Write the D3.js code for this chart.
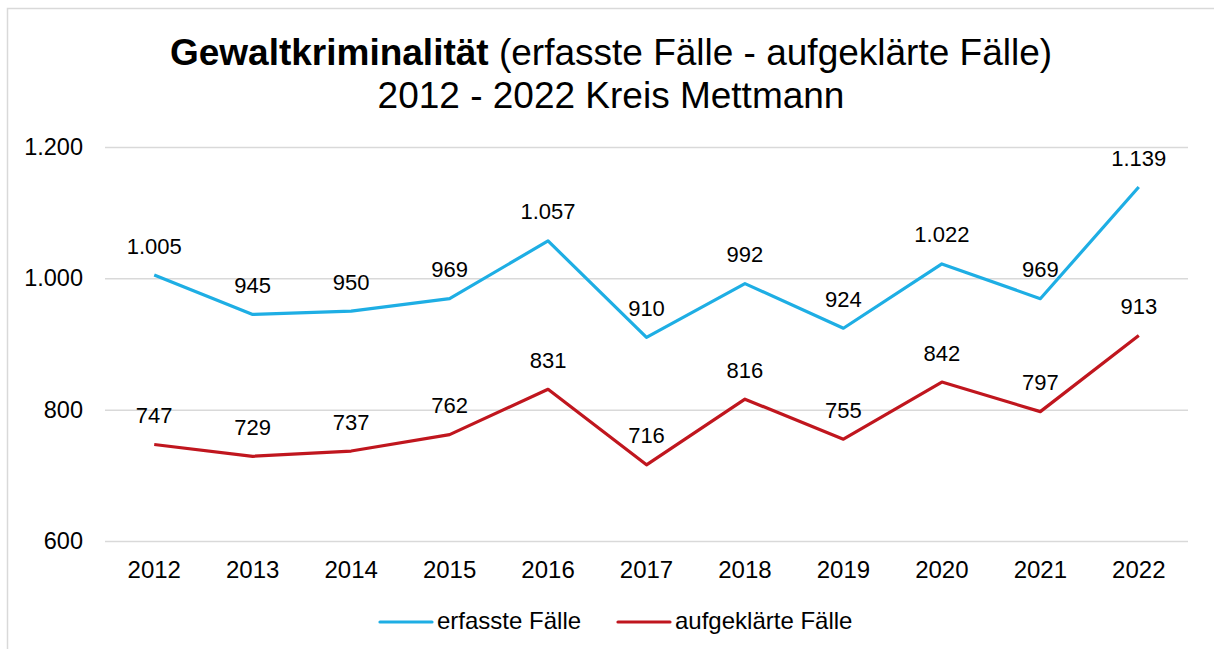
<!DOCTYPE html>
<html>
<head>
<meta charset="utf-8">
<script src="https://cdn.jsdelivr.net/npm/d3@7"></script>
<style>
  body { margin: 0; background: #fff; }
  text { font-family: "Liberation Sans", Arial, sans-serif; fill: #000; }
</style>
</head>
<body>
<svg id="chart" width="1214" height="649"></svg>
<script>
const years = ["2012", "2013", "2014", "2015", "2016", "2017", "2018", "2019", "2020", "2021", "2022"];
const erfasst = [1005, 945, 950, 969, 1057, 910, 992, 924, 1022, 969, 1139];
const aufgeklaert = [747, 729, 737, 762, 831, 716, 816, 755, 842, 797, 913];
const yTicks = [600, 800, 1000, 1200];
const seriesNames = ["erfasste Fälle", "aufgeklärte Fälle"];
const colors = ["#1eaee4", "#c0161e"];

const svg = d3.select("#chart");
const width = +svg.attr("width");
const height = +svg.attr("height");
const margin = { top: 147, right: 26, bottom: 108, left: 105 };

const fmt = v => d3.format(",")(v).replace(/,/g, ".");

// chart frame
svg.append("rect")
  .attr("x", 7.5).attr("y", 8.5)
  .attr("width", width + 20).attr("height", height + 20)
  .attr("fill", "none")
  .attr("stroke", "#d9d9d9")
  .attr("stroke-width", 1.5);

// title
const title = svg.append("text")
  .attr("x", 611).attr("y", 65)
  .attr("text-anchor", "middle")
  .attr("font-size", 37);
title.append("tspan").attr("font-weight", "bold").text("Gewaltkriminalität");
title.append("tspan").text(" (erfasste Fälle - aufgeklärte Fälle)");
svg.append("text")
  .attr("x", 611).attr("y", 108)
  .attr("text-anchor", "middle")
  .attr("font-size", 37)
  .text("2012 - 2022 Kreis Mettmann");

const x = d3.scaleBand().domain(years).range([margin.left, width - margin.right]);
const y = d3.scaleLinear().domain([600, 1200]).range([height - margin.bottom, margin.top]);

// gridlines
svg.append("g")
  .attr("transform", `translate(${margin.left},0)`)
  .call(d3.axisLeft(y).tickValues(yTicks).tickSize(-(width - margin.right - margin.left)).tickFormat(""))
  .call(g => g.select(".domain").remove())
  .call(g => g.selectAll("line").attr("stroke", "#d9d9d9").attr("stroke-width", 1.5));

// y axis labels
svg.append("g")
  .attr("transform", `translate(${margin.left},0)`)
  .call(d3.axisLeft(y).tickValues(yTicks).tickSize(0).tickPadding(22).tickFormat(fmt))
  .call(g => g.select(".domain").remove())
  .call(g => g.selectAll("text").attr("font-size", 23.5).attr("font-family", "Liberation Sans, Arial, sans-serif").attr("fill", "#000"));

// x axis labels
svg.append("g")
  .attr("transform", `translate(0,${height - margin.bottom})`)
  .call(d3.axisBottom(x).tickSize(0).tickPadding(20))
  .call(g => g.select(".domain").remove())
  .call(g => g.selectAll("text").attr("font-size", 24).attr("font-family", "Liberation Sans, Arial, sans-serif").attr("fill", "#000"));

const line = d3.line()
  .x((d, i) => x(years[i]) + x.bandwidth() / 2)
  .y(d => y(d));

[erfasst, aufgeklaert].forEach((data, k) => {
  svg.append("path")
    .datum(data)
    .attr("fill", "none")
    .attr("stroke", colors[k])
    .attr("stroke-width", 3.2)
    .attr("stroke-linejoin", "round")
    .attr("d", line);

  svg.append("g").selectAll("text")
    .data(data)
    .join("text")
    .attr("x", (d, i) => x(years[i]) + x.bandwidth() / 2)
    .attr("y", d => y(d) - 21.5)
    .attr("text-anchor", "middle")
    .attr("font-size", 22)
    .text(fmt);
});

// legend
const legendX = [380, 618];
const legend = svg.append("g");
seriesNames.forEach((name, k) => {
  legend.append("line")
    .attr("x1", legendX[k]).attr("x2", legendX[k] + 52)
    .attr("y1", 622).attr("y2", 622)
    .attr("stroke", colors[k])
    .attr("stroke-width", 3.2)
    .attr("stroke-linecap", "round");
  legend.append("text")
    .attr("x", legendX[k] + 57).attr("y", 629)
    .attr("font-size", 24)
    .text(name);
});
</script>
</body>
</html>
